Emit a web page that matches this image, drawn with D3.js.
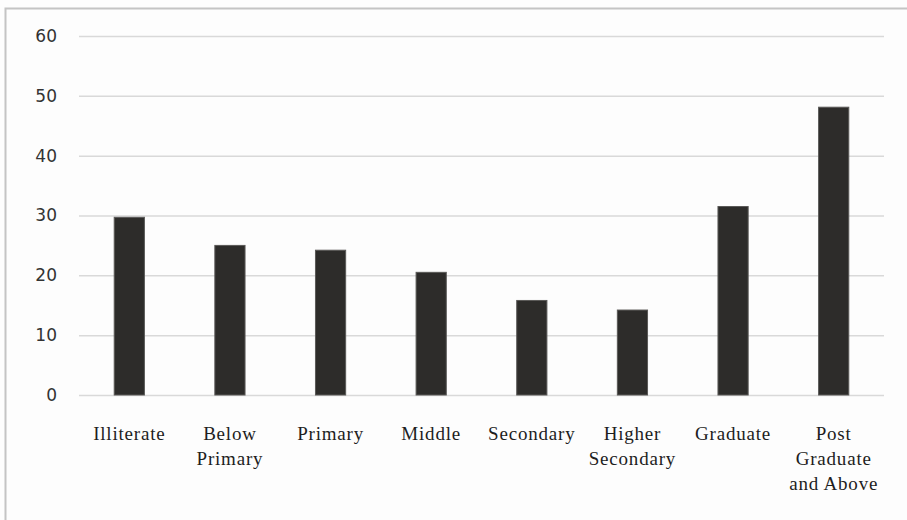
<!DOCTYPE html>
<html>
<head>
<meta charset="utf-8">
<script src="https://cdn.jsdelivr.net/npm/d3@7"></script>
<style>
  html, body { margin: 0; padding: 0; background: #ffffff; }
  svg { display: block; }
</style>
</head>
<body>
<svg id="chart" width="907" height="520"></svg>
<script>
// Education level categories (multi-line labels split on "|")
const categories = [
  "Illiterate",
  "Below|Primary",
  "Primary",
  "Middle",
  "Secondary",
  "Higher|Secondary",
  "Graduate",
  "Post|Graduate|and Above"
];
const values = [29.7, 25.0, 24.2, 20.5, 15.8, 14.2, 31.5, 48.1];
const yTicks = [0, 10, 20, 30, 40, 50, 60];

const svg = d3.select("#chart");
const W = 907, H = 520;
const margin = { left: 79, right: 23, top: 36, bottom: 125 };

// Outer frame
svg.append("rect").attr("x", 0).attr("y", 0).attr("width", W).attr("height", H).attr("fill", "#fdfdfd");
svg.append("path")
  .attr("d", `M5.5,${H} V8.5 H${W}`)
  .attr("fill", "none")
  .attr("stroke", "#c4c4c4")
  .attr("stroke-width", 2);

const x = d3.scaleBand()
  .domain(categories)
  .range([margin.left, W - margin.right])
  .paddingInner(0.7)
  .paddingOuter(0.35);

const y = d3.scaleLinear()
  .domain([0, 60])
  .range([H - margin.bottom, margin.top]);

// Horizontal gridlines and y labels
const yAxis = d3.axisLeft(y)
  .tickValues(yTicks)
  .tickSize(-(W - margin.left - margin.right))
  .tickPadding(22)
  .tickFormat(d3.format("d"));

const gy = svg.append("g")
  .attr("transform", `translate(${margin.left},0)`)
  .call(yAxis);
gy.select(".domain").remove();
gy.selectAll(".tick line")
  .attr("stroke", "#d9d9d9")
  .attr("stroke-width", 1.5);
gy.selectAll(".tick text")
  .attr("fill", "#333")
  .style("font-family", "'DejaVu Sans', Verdana, sans-serif")
  .style("font-size", "17px");

// Bars
svg.append("g")
  .selectAll("rect")
  .data(values)
  .join("rect")
  .attr("x", (d, i) => x(categories[i]))
  .attr("width", x.bandwidth())
  .attr("y", d => y(d))
  .attr("height", d => y(0) - y(d))
  .attr("fill", "#2d2c2a")
  .attr("stroke", "#5a5957")
  .attr("stroke-width", 1);

// Category labels
const labels = svg.append("g")
  .selectAll("text")
  .data(categories)
  .join("text")
  .attr("x", d => x(d) + x.bandwidth() / 2)
  .attr("y", 440)
  .attr("text-anchor", "middle")
  .attr("fill", "#1e1e1e")
  .style("font-family", "'Liberation Serif', 'Times New Roman', serif")
  .style("font-size", "19px")
  .style("letter-spacing", "0.8px");

labels.selectAll("tspan")
  .data(d => d.split("|"))
  .join("tspan")
  .attr("x", function () { return d3.select(this.parentNode).attr("x"); })
  .attr("dy", (d, i) => i === 0 ? 0 : 25)
  .text(d => d);
</script>
</body>
</html>
